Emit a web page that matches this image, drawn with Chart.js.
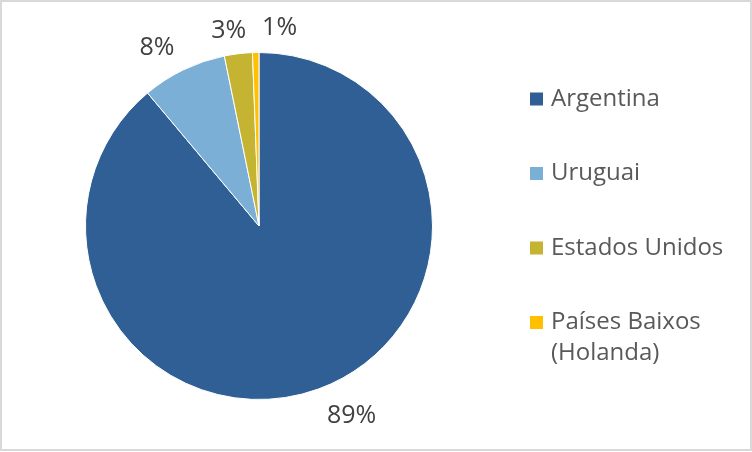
<!DOCTYPE html>
<html><head><meta charset="utf-8">
<script src="https://cdn.jsdelivr.net/npm/chart.js@4.4.0/dist/chart.umd.min.js"></script>
<style>html,body{margin:0;padding:0;background:#fff}#wrap{width:752px;height:452px;position:relative}</style>
</head><body><div id="wrap"><canvas id="c" width="752" height="452"></canvas></div>
<script>
const categories = ["Argentina", "Uruguai", "Estados Unidos", "Países Baixos (Holanda)"];
const legendLines = [["Argentina"], ["Uruguai"], ["Estados Unidos"], ["Países Baixos", "(Holanda)"]];
const values = [88.9, 7.9, 2.6, 0.6];
const valueLabels = ["89%", "8%", "3%", "1%"];
const colors = ["#2F5F95", "#7BAFD6", "#C5B432", "#FFC000"];

const FONT = "'Open Sans', sans-serif";

const framePlugin = {
  id: 'frame',
  beforeDraw(chart) {
    const ctx = chart.ctx;
    ctx.save();
    ctx.fillStyle = '#fff';
    ctx.fillRect(0, 0, chart.width, chart.height);
    ctx.strokeStyle = '#d9d9d9';
    ctx.lineWidth = 2;
    ctx.strokeRect(1, 1, chart.width - 2, chart.height - 3);
    ctx.restore();
  }
};

const labelPlugin = {
  id: 'outLabels',
  afterDatasetsDraw(chart, args, opts) {
    const ctx = chart.ctx;
    const meta = chart.getDatasetMeta(0);
    ctx.save();
    ctx.font = "25px " + FONT;
    ctx.fillStyle = '#404040';
    ctx.textAlign = 'center';
    ctx.textBaseline = 'middle';
    meta.data.forEach((arc, i) => {
      const p = arc.getProps(['x', 'y', 'startAngle', 'endAngle', 'outerRadius'], true);
      const a = (p.startAngle + p.endAngle) / 2 + (opts.nudge[i] || 0) * Math.PI / 180;
      const r = p.outerRadius + opts.dist[i];
      ctx.fillText(valueLabels[i], p.x + r * Math.cos(a), p.y + r * Math.sin(a));
    });
    ctx.restore();
  }
};

const legendPlugin = {
  id: 'sideLegend',
  afterDraw(chart, args, opts) {
    const ctx = chart.ctx;
    ctx.save();
    ctx.font = "24px " + FONT;
    ctx.textBaseline = 'middle';
    let y = opts.top;
    legendLines.forEach((lines, i) => {
      ctx.fillStyle = colors[i];
      ctx.fillRect(opts.left, y - 6.5, 13, 13);
      ctx.fillStyle = '#595959';
      lines.forEach((t, j) => ctx.fillText(t, opts.left + 21, y + j * opts.lineH));
      y += opts.step;
    });
    ctx.restore();
  }
};

new Chart(document.getElementById('c'), {
  type: 'pie',
  data: {
    labels: categories,
    datasets: [{ data: values, backgroundColor: colors, borderColor: '#fff', borderWidth: 1 }]
  },
  options: {
    responsive: false,
    animation: false,
    layout: { padding: { left: 85, right: 319, top: 52, bottom: 52 } },
    plugins: {
      legend: { display: false },
      tooltip: { enabled: false },
      outLabels: { dist: [38, 32, 24, 26], nudge: [-6, -4, -2, 7] },
      sideLegend: { left: 530, top: 99, step: 74.5, lineH: 31 }
    }
  },
  plugins: [framePlugin, labelPlugin, legendPlugin]
});
</script></body></html>
